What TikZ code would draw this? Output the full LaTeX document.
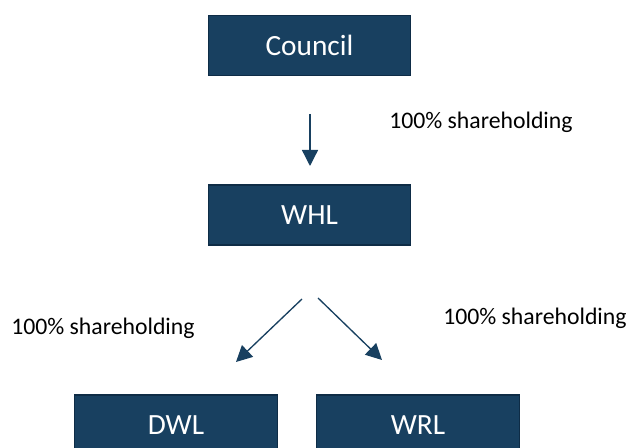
\documentclass[tikz,border=0pt]{standalone}
\usepackage{fontspec}
\setmainfont{Carlito}
\usetikzlibrary{arrows.meta}

\definecolor{boxblue}{RGB}{24,64,96}
\definecolor{boxedge}{RGB}{14,44,70}

\tikzset{
  company/.style={rectangle, fill=boxblue, draw=boxedge, line width=0.8pt, text=white,
    minimum width=152pt, minimum height=45pt, inner sep=0pt, font=\fontsize{22}{26}\selectfont},
  share/.style={inner sep=0pt, font=\fontsize{17.8}{21}\selectfont},
  holding/.style={draw=boxblue, line width=1pt, -{Triangle[length=12pt,width=12pt]}}
}

\begin{document}
\begin{tikzpicture}[x=0.75pt, y=-0.75pt]
    %% page size, the bottom boxes run off the page
        \path[use as bounding box, clip] (0,0) rectangle (629,448);
    %% the companies
        \node[company] (council) at (309.5,45.5) {Council};
        \node[company] (whl) at (309.5,215) {WHL};
        \node[company] (dwl) at (176,425) {DWL};
        \node[company] (wrl) at (418,425) {WRL};
    %% arrow ends, the arrows do not touch the boxes
        \coordinate (topstart) at (310,114);
        \coordinate (topend) at (310,166);
        \coordinate (leftstart) at (302,299);
        \coordinate (leftend) at (236,362);
        \coordinate (rightstart) at (318,298);
        \coordinate (rightend) at (382,360);
        \draw[holding] (topstart) -- (topend);
        \draw[holding] (leftstart) -- (leftend);
        \draw[holding] (rightstart) -- (rightend);
    %% shareholding labels
        \node[share, anchor=base west] (sharetop) at (389,129) {100\% shareholding};
        \node[share, anchor=base west] (shareleft) at (11,335) {100\% shareholding};
        \node[share, anchor=base west] (shareright) at (443,325) {100\% shareholding};
\end{tikzpicture}
\end{document}
